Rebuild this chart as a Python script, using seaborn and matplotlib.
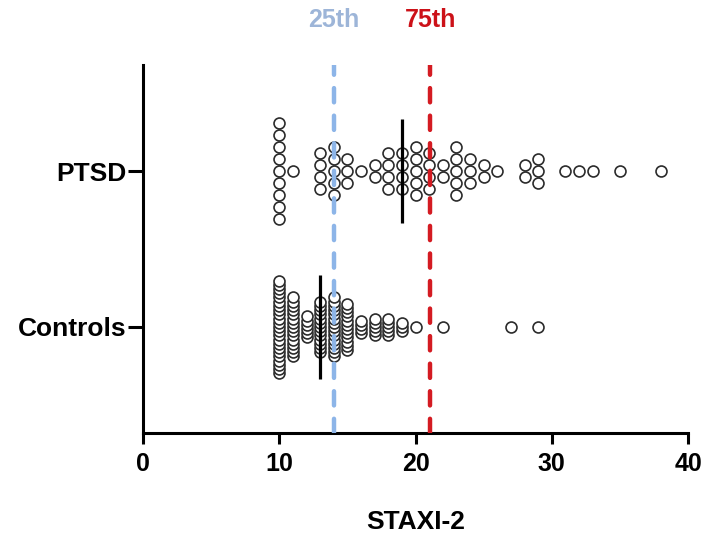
import numpy as np
import pandas as pd
import matplotlib
matplotlib.use("Agg")
import matplotlib.pyplot as plt
import seaborn as sns

# ---- data ----
groups = ["Controls", "PTSD"]
ptsd_values = [10, 11, 13, 14, 15, 16, 17, 18, 19, 20, 21, 22, 23, 24, 25, 26, 28, 29, 31, 32, 33, 35, 38]
ptsd_counts = [9, 1, 4, 5, 3, 1, 2, 4, 4, 5, 4, 2, 5, 3, 2, 1, 2, 3, 1, 1, 1, 1, 1]
controls_values = [10, 11, 12, 13, 14, 15, 16, 17, 18, 19, 20, 22, 27, 29]
controls_counts = [23, 15, 6, 13, 15, 12, 4, 5, 5, 3, 1, 1, 1, 1]
medians = {"Controls": 13, "PTSD": 19}
pct25 = 14
pct75 = 21.1
xticks = [0, 10, 20, 30, 40]

sns.set_theme(style="white")
plt.rcParams["font.family"] = ["Liberation Sans", "DejaVu Sans"]
plt.rcParams["font.weight"] = "bold"
plt.rcParams["text.color"] = "black"
plt.rcParams["axes.labelcolor"] = "black"
plt.rcParams["xtick.color"] = "black"
plt.rcParams["ytick.color"] = "black"

# stacking of repeated values (Prism-like column scatter)
spacing = {"Controls": 0.027, "PTSD": 0.077}
rows = []
for gi, (g, vals, cnts) in enumerate([("Controls", controls_values, controls_counts),
                                       ("PTSD", ptsd_values, ptsd_counts)]):
    for v, c in zip(vals, cnts):
        for i in range(c):
            rows.append({"group": g, "value": v,
                         "ypos": gi + (i - (c - 1) / 2) * spacing[g]})
df = pd.DataFrame(rows)

fig = plt.figure(figsize=(7.09, 5.37), dpi=100)
ax = fig.add_axes([0.2017, 0.1937, 0.7687, 0.6853])

sns.scatterplot(data=df, x="value", y="ypos", ax=ax, marker="o", s=62,
                facecolor="white", edgecolor="#2b2b2b", linewidth=1.2,
                legend=False, zorder=2)

# medians
for gi, g in enumerate(groups):
    ax.plot([medians[g], medians[g]], [gi - 0.335, gi + 0.335], color="black",
            lw=2.3, zorder=4, solid_capstyle="butt")

# percentile lines
ax.axvline(pct25, color="#8db5e8", lw=3.2, ls=(0, (3.2, 3.0)), zorder=3,
           dash_capstyle="round")
ax.axvline(pct75, color="#d41b22", lw=3.2, ls=(0, (3.2, 3.0)), zorder=3,
           dash_capstyle="round")
ax.text(pct25, 1.0 + 45 / 368, "25th", transform=ax.get_xaxis_transform(),
        ha="center", va="center", fontsize=18, fontweight="bold", color="#9db5d8")
ax.text(pct75, 1.0 + 45 / 368, "75th", transform=ax.get_xaxis_transform(),
        ha="center", va="center", fontsize=18, fontweight="bold", color="#cc1118")

ax.set_xlim(0, 40)
ax.set_ylim(-0.68, 1.68)
ax.set_xticks(xticks)
ax.set_xticklabels([str(t) for t in xticks], fontsize=18, fontweight="bold", color="black")
ax.set_yticks([0, 1])
ax.set_yticklabels(groups, fontsize=19, fontweight="bold", color="black")
ax.set_xlabel("STAXI-2", fontsize=19, fontweight="bold", labelpad=24, color="black")
ax.set_ylabel("")

for side in ["top", "right"]:
    ax.spines[side].set_visible(False)
for side in ["left", "bottom"]:
    ax.spines[side].set_linewidth(2.2)
    ax.spines[side].set_color("black")
ax.tick_params(axis="x", direction="out", length=8, width=2.2, color="black", pad=6, bottom=True)
ax.tick_params(axis="y", direction="out", length=11, width=2.2, color="black", pad=1, left=True)

fig.savefig("out.png", dpi=100)
